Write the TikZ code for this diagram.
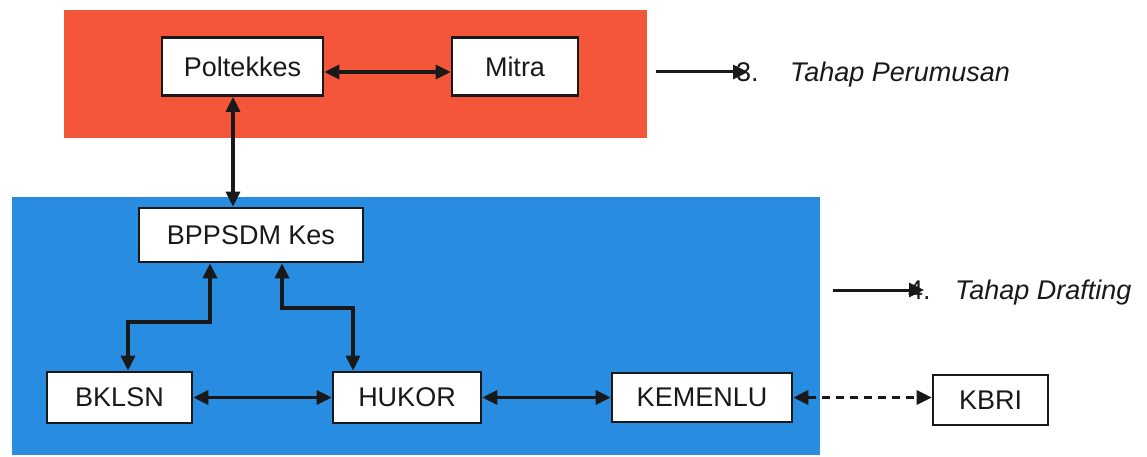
\documentclass[tikz,border=0pt]{standalone}
\usepackage{fontspec}
\setmainfont{Liberation Sans}
\usetikzlibrary{arrows.meta}
\definecolor{redbg}{RGB}{244,86,58}
\definecolor{bluebg}{RGB}{40,140,224}
\definecolor{ink}{RGB}{25,25,25}
\begin{document}
\begin{tikzpicture}[x=1pt,y=-1pt,
  box/.style={draw=ink, line width=2.6pt, fill=white, inner sep=0pt, font=\fontsize{27}{32}\selectfont, text=ink},
  tipA/.tip={Triangle[length=15pt,width=14pt]},
  link/.style={draw=ink, line width=3.2pt, tipA-tipA},
  dlink/.style={draw=ink, line width=3pt, tipA-tipA, dash pattern=on 8pt off 6pt},
  ptr/.style={draw=ink, line width=3pt, -tipA},
  lbl/.style={font=\fontsize{27}{32}\selectfont\itshape, text=ink, inner sep=0pt, anchor=base west},
  num/.style={font=\fontsize{27}{32}\selectfont, text=ink, inner sep=0pt, anchor=base west}]
\useasboundingbox (0,0) rectangle (1147,457);
% backgrounds
\fill[bluebg] (12,197) rectangle (820,455);
\fill[redbg] (64,10) rectangle (647,138);
% boxes
\node[box, minimum width=161pt, minimum height=58pt] (polt) at (242.5,66.5) {Poltekkes};
\node[box, minimum width=126pt, minimum height=58pt] (mitra) at (515,66.5) {Mitra};
\node[box, minimum width=224pt, minimum height=54pt] (bpp) at (251,235) {BPPSDM Kes};
\node[box, minimum width=145pt, minimum height=51pt] (bklsn) at (119.5,397.5) {BKLSN};
\node[box, minimum width=148pt, minimum height=51pt] (hukor) at (407,397.5) {HUKOR};
\node[box, minimum width=180pt, minimum height=49pt] (kemenlu) at (702,397.5) {KEMENLU};
\node[box, minimum width=115pt, minimum height=50pt] (kbri) at (990.5,400) {KBRI\hspace{8pt}};
% helper coordinates
\coordinate (vx) at (233,0);
\coordinate (lx) at (210,0);
\coordinate (lm) at (128,322);
\coordinate (rx) at (282,0);
\coordinate (rm) at (353,308);
% connectors
\draw[link] ([yshift=-5.5pt]polt.east) -- ([yshift=-5.5pt]mitra.west);
\draw[link] (polt.south -| vx) -- (bpp.north -| vx);
\draw[link] (bpp.south -| lx) |- (lm) -- (bklsn.north -| lm);
\draw[link] (bpp.south -| rx) |- (rm) -- (hukor.north -| rm);
\draw[link] (bklsn.east) -- (hukor.west);
\draw[link] (hukor.east) -- (kemenlu.west);
\draw[dlink] (kemenlu.east) -- (kbri.west |- kemenlu.east);
% stage labels
\node[num] (n3) at (736,82) {3.};
\node[lbl] (t3) at (790,82) {Tahap Perumusan};
\coordinate (s3) at (656,72);
\coordinate (e3) at (748,72);
\draw[ptr] (s3) -- (e3);
\node[num] (n4) at (908,299) {4.};
\node[lbl] (t4) at (955,299) {Tahap Drafting};
\coordinate (s4) at (833,290);
\coordinate (e4) at (924,290);
\draw[ptr] (s4) -- (e4);
\end{tikzpicture}
\end{document}
